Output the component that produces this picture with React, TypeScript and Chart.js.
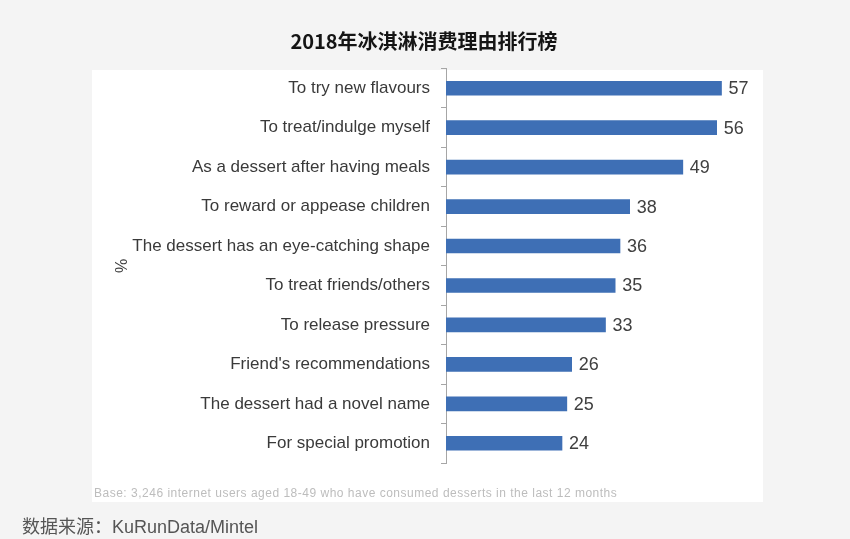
import React, { useEffect, useRef } from "react";
import { Chart, registerables } from "chart.js";

Chart.register(...registerables);

const TITLE = "2018年冰淇淋消费理由排行榜";
const CATEGORIES = [
  "To try new flavours",
  "To treat/indulge myself",
  "As a dessert after having meals",
  "To reward or appease children",
  "The dessert has an eye-catching shape",
  "To treat friends/others",
  "To release pressure",
  "Friend's recommendations",
  "The dessert had a novel name",
  "For special promotion",
];
const VALUES = [57, 56, 49, 38, 36, 35, 33, 26, 25, 24];
const AXIS_TITLE = "%";
const FOOTNOTE = "Base: 3,246 internet users aged 18-49 who have consumed desserts in the last 12 months";
const SOURCE = "数据来源：KuRunData/Mintel";

const FONT = "'Liberation Sans', Arial, sans-serif";

const decorPlugin = {
  id: "decor",
  beforeDraw(chart: any) {
    const ctx = chart.ctx;
    ctx.save();
    ctx.fillStyle = "#f4f4f4";
    ctx.fillRect(0, 0, chart.width, chart.height);
    ctx.fillStyle = "#ffffff";
    ctx.fillRect(92, 70, 671, 432);
    // title
    ctx.fillStyle = "#151515";
    ctx.font = "bold 20px 'Noto Sans CJK SC', sans-serif";
    ctx.textAlign = "center";
    ctx.textBaseline = "middle";
    ctx.fillText(TITLE, 424, 41);
    // footnote
    ctx.fillStyle = "#bdbdbd";
    ctx.font = "12px " + FONT;
    ctx.textAlign = "left";
    (ctx as any).letterSpacing = "0.5px";
    ctx.fillText(FOOTNOTE, 94, 494);
    (ctx as any).letterSpacing = "0px";
    // source
    ctx.fillStyle = "#555555";
    ctx.font = "18px 'Liberation Sans', 'Noto Sans CJK SC', sans-serif";
    ctx.fillText(SOURCE, 22, 528);
    // axis title
    ctx.translate(123, 266);
    ctx.rotate(-Math.PI / 2);
    ctx.fillStyle = "#404040";
    ctx.font = "16px " + FONT;
    ctx.textAlign = "center";
    ctx.fillText(AXIS_TITLE, 0, 0);
    ctx.restore();
  },
  afterDatasetsDraw(chart: any) {
    const ctx = chart.ctx;
    const meta = chart.getDatasetMeta(0);
    ctx.save();
    ctx.fillStyle = "#404040";
    ctx.font = "18px " + FONT;
    ctx.textAlign = "left";
    ctx.textBaseline = "middle";
    meta.data.forEach((bar: any, i: number) => {
      ctx.fillText(String(VALUES[i]), bar.x + 7, bar.y + 1);
    });
    ctx.restore();
  },
};

export default function App() {
  const ref = useRef<HTMLCanvasElement | null>(null);
  useEffect(() => {
    if (!ref.current) return;
    const chart = new Chart(ref.current, {
      type: "bar",
      data: {
        labels: CATEGORIES,
        datasets: [
          {
            data: VALUES,
            backgroundColor: "#3e6fb5",
            barThickness: 14,
          },
        ],
      },
      options: {
        indexAxis: "y",
        responsive: false,
        animation: false,
        layout: { padding: { top: 68.5, bottom: 76, left: 92, right: 114 } },
        plugins: {
          legend: { display: false },
          tooltip: { enabled: false },
          title: { display: false },
        },
        scales: {
          x: { display: false, min: 0, max: 60 },
          y: {
            afterFit(scale: any) {
              scale.width = 354;
            },
            grid: {
              display: true,
              drawOnChartArea: false,
              drawTicks: true,
              tickLength: 5,
              color: "#a6a6a6",
              offset: true,
            },
            border: { display: true, color: "#a6a6a6" },
            ticks: {
              color: "#3a3a3a",
              font: { size: 17, family: FONT },
              padding: 11,
              autoSkip: false,
            },
          },
        },
      },
      plugins: [decorPlugin],
    } as any);
    return () => chart.destroy();
  }, []);
  return (
    <div style={{ position: "absolute", left: 0, top: 0, width: 850, height: 539 }}>
      <canvas ref={ref} width={850} height={539} />
    </div>
  );
}
